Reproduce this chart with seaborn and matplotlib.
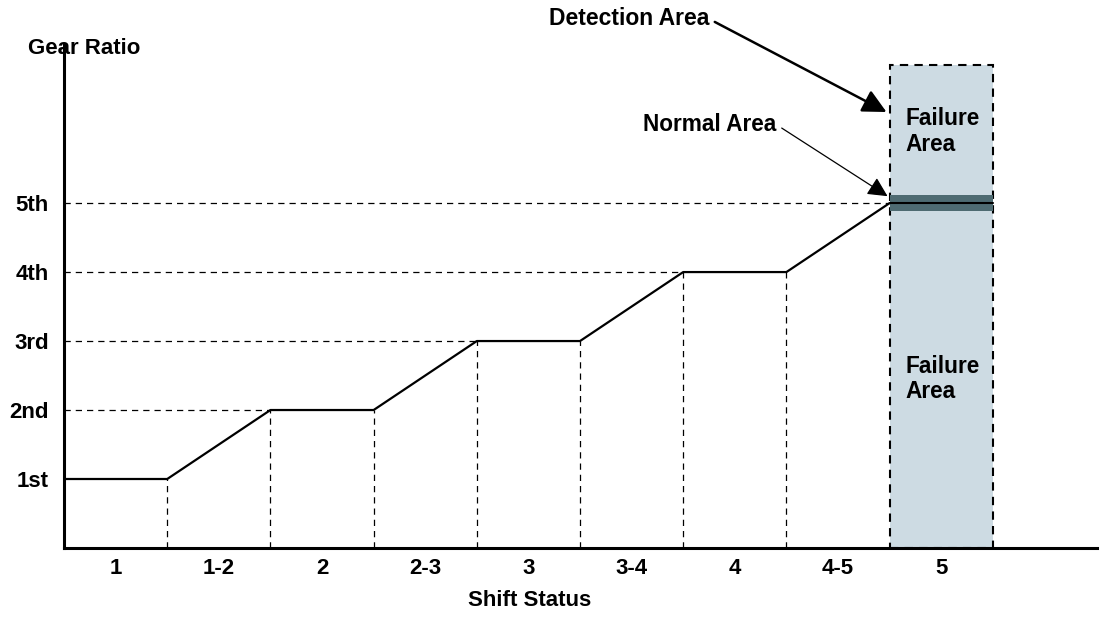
import matplotlib
matplotlib.use('Agg')
import matplotlib.pyplot as plt
import seaborn as sns
import pandas as pd
from matplotlib.patches import Rectangle

# data
shift_labels = ['1', '1-2', '2', '2-3', '3', '3-4', '4', '4-5', '5']
gear_labels = ['1st', '2nd', '3rd', '4th', '5th']
gear_levels = [1, 2, 3, 4, 5]
line_x = [0, 1, 2, 3, 4, 5, 6, 7, 8]
line_gear = [1, 1, 2, 2, 3, 3, 4, 4, 5]
failure_x = [8, 9]
failure_top = 7
normal_band = [4.88, 5.12]

sns.set_style('white')
plt.rcParams['font.family'] = ['Liberation Sans', 'DejaVu Sans']
plt.rcParams['font.weight'] = 'bold'
plt.rcParams['text.color'] = 'black'
plt.rcParams['xtick.color'] = 'black'
plt.rcParams['ytick.color'] = 'black'

fig = plt.figure(figsize=(11.04, 6.18), dpi=100)
ax = fig.add_axes([0.058, 0.1133, 0.9357, 0.8137])

df = pd.DataFrame({'x': line_x, 'gear': line_gear})

# shaded detection area
ax.add_patch(Rectangle((failure_x[0], 0), failure_x[1] - failure_x[0], failure_top,
                       facecolor='#cddbe3', edgecolor='black', linestyle=(0, (4, 3)),
                       linewidth=1.5, zorder=1))
ax.add_patch(Rectangle((failure_x[0], normal_band[0]), failure_x[1] - failure_x[0],
                       normal_band[1] - normal_band[0], facecolor='#4e6b72',
                       edgecolor='none', zorder=2))
ax.plot(failure_x, [5, 5], color='black', linewidth=1.5, zorder=3)

# dashed guides
for g in gear_levels:
    xe = line_x[line_gear.index(g)]
    if xe > 0:
        ax.plot([0, xe], [g, g], color='black', linestyle=(0, (5, 4)), linewidth=0.9, zorder=2)
for xv, g in zip(line_x[1:-1], line_gear[1:-1]):
    ax.plot([xv, xv], [0, g], color='black', linestyle=(0, (5, 4)), linewidth=0.9, zorder=2)

sns.lineplot(data=df, x='x', y='gear', color='black', linewidth=1.6, ax=ax, zorder=4)

ax.set_xlim(0, 10.01)
ax.set_ylim(0, 7.29)
ax.set_xticks([i + 0.5 for i in range(len(shift_labels))])
ax.set_xticklabels(shift_labels, fontsize=16, fontweight='bold')
ax.set_yticks(gear_levels)
ax.set_yticklabels(gear_labels, fontsize=16, fontweight='bold')
ax.tick_params(axis='both', length=0)
ax.tick_params(axis='y', pad=11)
ax.tick_params(axis='x', pad=7)
ax.set_xlabel('')
ax.set_ylabel('')
sns.despine(ax=ax)
for s in ['left', 'bottom']:
    ax.spines[s].set_linewidth(2.2)
    ax.spines[s].set_color('black')

fig.text(28 / 1104, 1 - 48 / 618, 'Gear Ratio', fontsize=16, fontweight='bold', va='center', ha='left')
fig.text(530 / 1104, 1 - 600 / 618, 'Shift Status', fontsize=16, fontweight='bold', va='center', ha='center')

ax.text(8.15, 6.04, 'Failure\nArea', fontsize=16.3, fontweight='bold', va='center', ha='left',
        multialignment='left', linespacing=1.15)
ax.text(8.15, 2.45, 'Failure\nArea', fontsize=16.3, fontweight='bold', va='center', ha='left',
        multialignment='left', linespacing=1.15)

ax.annotate('Detection Area', xy=(7.97, 6.32), xytext=(6.25, 7.67),
            fontsize=16.5, fontweight='bold', ha='right', va='center', annotation_clip=False,
            arrowprops=dict(arrowstyle='-|>', color='black', lw=1.8, mutation_scale=36,
                            relpos=(1, 0.5), shrinkA=2, shrinkB=0))
ax.annotate('Normal Area', xy=(7.98, 5.1), xytext=(6.9, 6.14),
            fontsize=16.3, fontweight='bold', ha='right', va='center', annotation_clip=False,
            arrowprops=dict(arrowstyle='-|>', color='black', lw=0.9, mutation_scale=30,
                            relpos=(1, 0.5), shrinkA=2, shrinkB=0))

fig.savefig('out.png', dpi=100)
